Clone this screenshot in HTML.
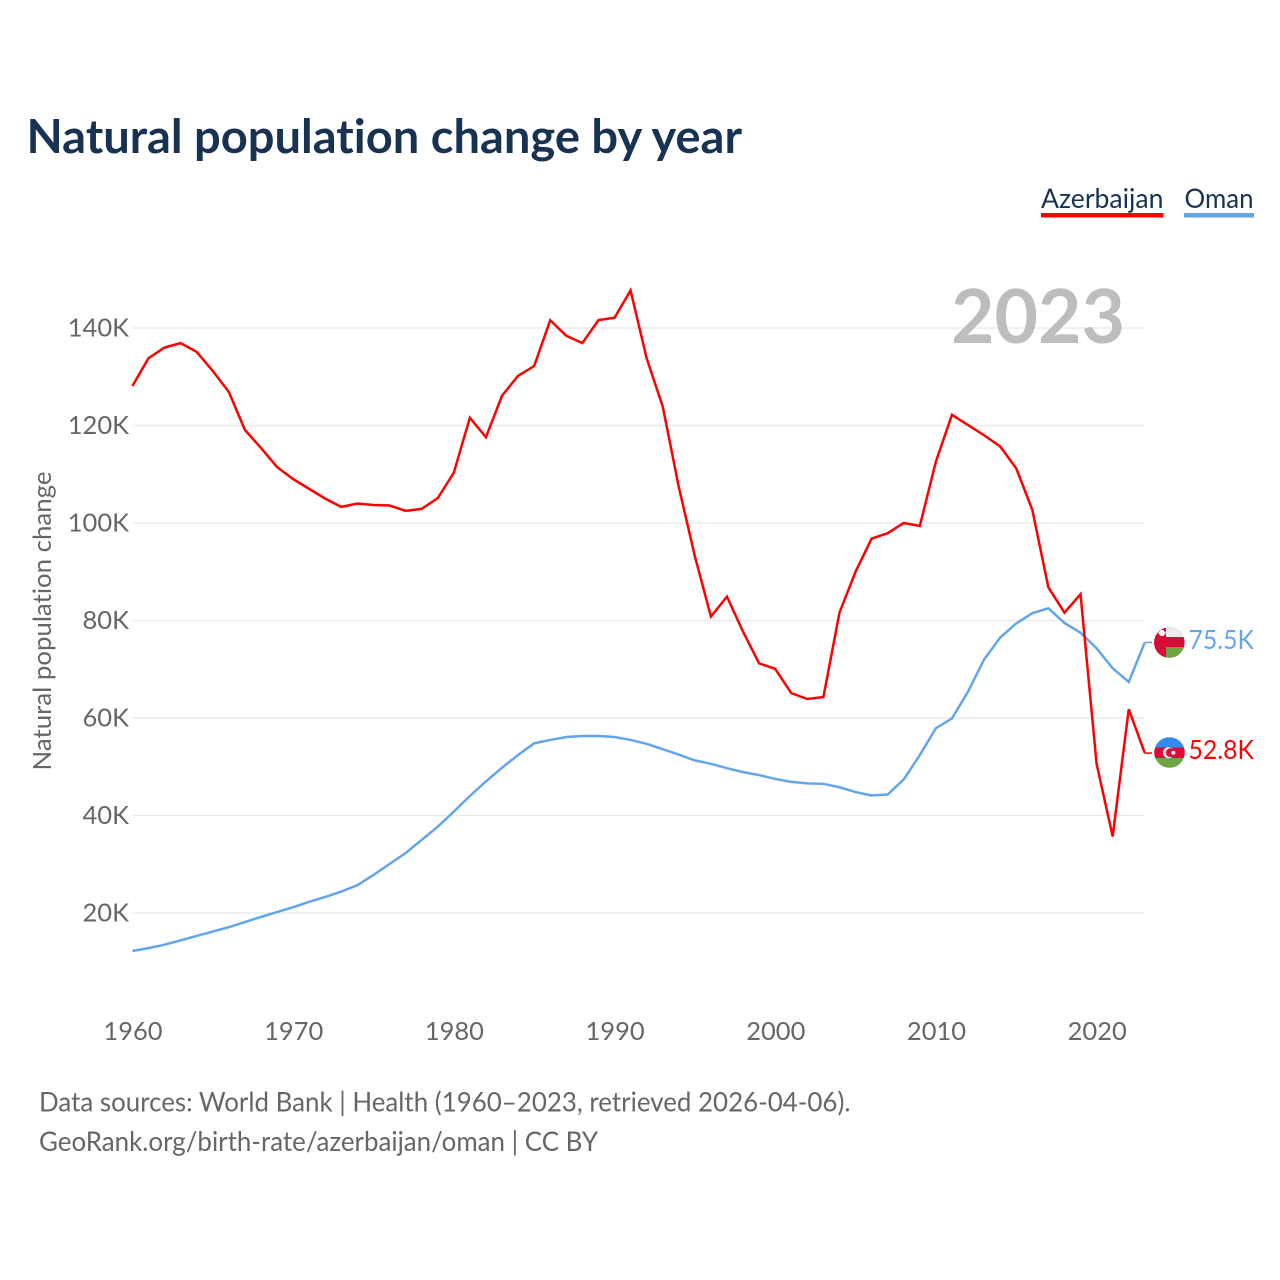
<!DOCTYPE html>
<html lang="en">
<head>
<meta charset="utf-8">
<title>Natural population change by year</title>
<style>
html,body{margin:0;padding:0;background:#fff;width:1280px;height:1280px;overflow:hidden}
svg{display:block}
text{font-family:"Lato","Carlito","Liberation Sans",sans-serif;font-variant-ligatures:none;font-feature-settings:"liga" 0,"clig" 0}
</style>
</head>
<body>
<svg id="chart" xmlns="http://www.w3.org/2000/svg" width="1280" height="1280" viewBox="0 0 1280 1280">
  <defs>
    <clipPath id="clip-om"><circle cx="1169.300" cy="642.500" r="15.300"/></clipPath>
    <clipPath id="clip-az"><circle cx="1169.500" cy="752.500" r="15.300"/></clipPath>
  </defs>
  <rect width="1280" height="1280" fill="#fff"/>
  <text x="26.500" y="153" font-size="46.500" font-weight="700" fill="#183253" textLength="715.500" lengthAdjust="spacingAndGlyphs">Natural population change by year</text>

  <g>
    <g>
      <text x="1041" y="208" font-size="27.500" fill="#183253" textLength="122.500" lengthAdjust="spacingAndGlyphs">Azerbaijan</text>
      <rect x="1041" y="213" width="122.500" height="4.500" fill="#ff0000"/>
    </g>
    <g>
      <text x="1184.500" y="208" font-size="27.500" fill="#183253" textLength="69" lengthAdjust="spacingAndGlyphs">Oman</text>
      <rect x="1184" y="213" width="70" height="4.500" fill="#62a5ec"/>
    </g>
  </g>

  <g id="grid"></g>
  <g id="yticks"></g>
  <g id="xticks"></g>

  <text transform="translate(51,770.500) rotate(-90)" font-size="25.500" fill="#666" textLength="299" lengthAdjust="spacingAndGlyphs">Natural population change</text>

  <text x="1125" y="343" font-size="75" font-weight="700" fill="#bdbdbd" text-anchor="end">2023</text>

  <g id="series"></g>

  <g clip-path="url(#clip-om)">
    <rect x="1154" y="627" width="31" height="31" fill="#d80c36"/>
    <rect x="1166" y="627" width="19" height="10" fill="#ececec"/>
    <rect x="1166" y="647" width="19" height="11" fill="#6da544"/>
    <rect x="1160" y="630" width="4" height="6" fill="#f0f0f0"/>
    <rect x="1158.500" y="631.500" width="7" height="3" fill="#f0f0f0"/>
  </g>
  <g clip-path="url(#clip-az)">
    <rect x="1154" y="737" width="31" height="10.500" fill="#338af3"/>
    <rect x="1154" y="747.500" width="31" height="10.500" fill="#d80c36"/>
    <rect x="1154" y="758" width="31" height="11" fill="#6da544"/>
    <circle cx="1168.500" cy="752.700" r="5.500" fill="#f0f0f0"/>
    <circle cx="1170.300" cy="752.700" r="4.400" fill="#d80c36"/>
    <circle cx="1173.300" cy="752.700" r="2" fill="#f0f0f0"/>
  </g>

  <text x="1188.500" y="649" font-size="26" fill="#62a5ec" textLength="65.500" lengthAdjust="spacingAndGlyphs">75.5K</text>
  <text x="1188.500" y="759" font-size="26" fill="#ff0000" textLength="65.500" lengthAdjust="spacingAndGlyphs">52.8K</text>

  <text x="39" y="1111.500" font-size="27.500" fill="#666" textLength="811.500" lengthAdjust="spacingAndGlyphs">Data sources: World Bank | Health (1960–2023, retrieved 2026-04-06).</text>
  <text x="39" y="1151" font-size="27.500" fill="#666" textLength="559" lengthAdjust="spacingAndGlyphs">GeoRank.org/birth-rate/azerbaijan/oman | CC BY</text>
</svg>
<script>
const firstYear = 1960;
const azerbaijan = [128.1,133.8,136.0,136.9,135.1,131.2,126.9,119.1,115.4,111.5,109.0,107.0,105.0,103.3,104.0,103.7,103.6,102.5,102.9,105.1,110.3,121.6,117.6,126.1,130.2,132.2,141.6,138.4,136.9,141.6,142.1,147.7,133.8,123.9,107.4,93.2,80.8,84.9,77.7,71.2,70.1,65.1,63.9,64.3,81.6,90.0,96.8,97.9,100.0,99.4,112.6,122.2,120.1,118.0,115.7,111.2,102.7,86.8,81.6,85.4,50.6,35.7,61.8,52.8];
const oman = [12.2,12.8,13.5,14.4,15.3,16.2,17.1,18.15,19.2,20.2,21.2,22.3,23.3,24.4,25.7,27.8,30.05,32.3,35.0,37.7,40.8,44.0,47.0,49.8,52.4,54.8,55.5,56.1,56.3,56.3,56.1,55.5,54.7,53.6,52.5,51.3,50.6,49.7,48.9,48.3,47.5,46.9,46.6,46.5,45.8,44.8,44.1,44.3,47.4,52.4,57.9,59.9,65.4,72.0,76.5,79.4,81.5,82.5,79.5,77.5,74.3,70.2,67.4,75.5];
const yTickValues = [20,40,60,80,100,120,140];
const yTickLabels = ["20K","40K","60K","80K","100K","120K","140K"];
const xTickYears = [1960,1970,1980,1990,2000,2010,2020];

const SVG_NS = "http://www.w3.org/2000/svg";
function xScale(year){ return 132.4 + (year - 1960) * 16.07; }
function yScale(v){ return 913 - (v - 20) * 4.875; }

const gridGroup = document.getElementById("grid");
const yGroup = document.getElementById("yticks");
const xGroup = document.getElementById("xticks");
const seriesGroup = document.getElementById("series");

yTickValues.forEach(function(v, i){
  const line = document.createElementNS(SVG_NS, "line");
  
  
  line.setAttribute("x1", 133);
  line.setAttribute("x2", 1144);
  line.setAttribute("y1", yScale(v));
  line.setAttribute("y2", yScale(v));
  line.setAttribute("stroke", "#e8e8e8");
  line.setAttribute("stroke-width", "1.3");
  gridGroup.appendChild(line);

  const label = document.createElementNS(SVG_NS, "text");
  
  
  label.setAttribute("x", 129);
  label.setAttribute("y", yScale(v) + 8.500);
  label.setAttribute("text-anchor", "end");
  label.setAttribute("font-size", "25.5");
  label.setAttribute("fill", "#666");
  label.textContent = yTickLabels[i];
  yGroup.appendChild(label);
});

xTickYears.forEach(function(year){
  const label = document.createElementNS(SVG_NS, "text");
  
  
  label.setAttribute("x", xScale(year) + 0.6);
  label.setAttribute("y", 1040);
  label.setAttribute("text-anchor", "middle");
  label.setAttribute("font-size", "25.5");
  label.setAttribute("fill", "#666");
  label.textContent = String(year);
  xGroup.appendChild(label);
});

function buildPoints(values){
  return values.map(function(v, i){
    return xScale(firstYear + i).toFixed(2) + "," + yScale(v).toFixed(2);
  }).join(" ");
}

function buildStub(values){
  const lastX = xScale(firstYear + values.length - 1).toFixed(2);
  const lastY = yScale(values[values.length - 1]).toFixed(2);
  return "M" + lastX + " " + lastY + "H1152";
}

const omanLine = document.createElementNS(SVG_NS, "polyline");


omanLine.setAttribute("points", buildPoints(oman));
omanLine.setAttribute("fill", "none");
omanLine.setAttribute("stroke", "#62a5ec");
omanLine.setAttribute("stroke-width", "2.500");
seriesGroup.appendChild(omanLine);

const omanStub = document.createElementNS(SVG_NS, "path");


omanStub.setAttribute("d", buildStub(oman));
omanStub.setAttribute("fill", "none");
omanStub.setAttribute("stroke", "#62a5ec");
omanStub.setAttribute("stroke-width", "1.5");
seriesGroup.appendChild(omanStub);

const azLine = document.createElementNS(SVG_NS, "polyline");


azLine.setAttribute("points", buildPoints(azerbaijan));
azLine.setAttribute("fill", "none");
azLine.setAttribute("stroke", "#ff0000");
azLine.setAttribute("stroke-width", "2.500");
seriesGroup.appendChild(azLine);

const azStub = document.createElementNS(SVG_NS, "path");


azStub.setAttribute("d", buildStub(azerbaijan));
azStub.setAttribute("fill", "none");
azStub.setAttribute("stroke", "#ff0000");
azStub.setAttribute("stroke-width", "1.5");
seriesGroup.appendChild(azStub);
</script>
</body>
</html>
